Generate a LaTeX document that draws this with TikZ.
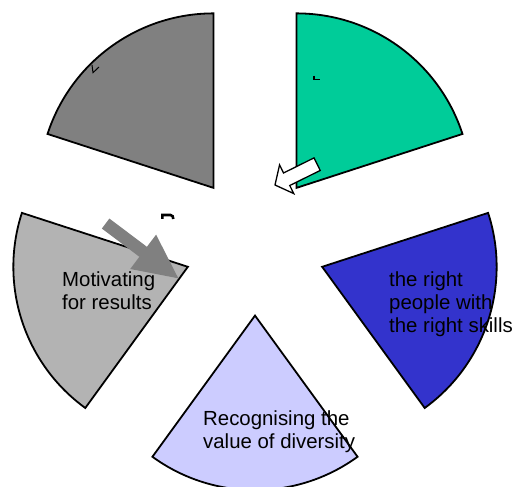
\documentclass[tikz,border=0pt]{standalone}
\usepackage{fontspec}
\setmainfont{Liberation Sans}
\usetikzlibrary{calc}
\definecolor{slicedark}{HTML}{808080}
\definecolor{slicegreen}{HTML}{00CC99}
\definecolor{sliceblue}{HTML}{3333CC}
\definecolor{slicelavender}{HTML}{CCCCFF}
\definecolor{slicelight}{HTML}{B3B3B3}
\begin{document}
\begin{tikzpicture}[x=1pt,y=1pt,
  slice/.style={draw=black, line width=1.8pt, line join=miter},
  % base anchor of a multi-line node sits on its last line
  slicetext/.style={anchor=base west, inner sep=0pt, align=left,
    font=\fontsize{20.4}{23.3}\selectfont},
  hollowarrow/.style={draw=black, fill=white, line width=1.3pt, line join=miter},
  solidarrow/.style={fill=slicedark},
  fragment/.style={draw=black, line width=1pt}]
\useasboundingbox (0,0) rectangle (515,487);
\coordinate (c) at (255,242);

% exploded pie: five 72-degree slices pushed out from the centre
\foreach \m/\col in {126/slicedark, 54/slicegreen, -18/sliceblue,
                     -90/slicelavender, 198/slicelight}{
  \draw[slice, fill=\col] ($(c)+(\m:70.6)$) -- ++(\m-36:174.5)
    arc[start angle=\m-36, end angle=\m+36, radius=174.5] -- cycle;
}

% leftover glyph pieces
\draw[fragment] (92,422) -- (93,414.3) -- (99,420);
\draw[fragment, line width=2pt] (314,411.3) -- (314,407);
\draw[fragment] (313.2,407) -- (320,407);
\draw[fragment, line width=2.6pt] (162.3,268) -- (162.3,272) -- (170.5,272)
  .. controls (172.5,272) and (173.3,270) .. (173.3,268);

% block arrows
\draw[hollowarrow, shift={(275,302)}, rotate=26.3]
  (0,0) -- (13,16) -- (13,7) -- (47,7) -- (47,-7) -- (13,-7) -- (13,-16) -- cycle;
\fill[solidarrow, shift={(178.3,208.7)}, rotate=143]
  (0,0) -- (44,21.5) -- (44,6.25) -- (91,6.25) -- (91,-6.25) -- (44,-6.25) -- (44,-21.5) -- cycle;

% slice labels
\node[slicetext] (motiv) at (62,177) {Motivating\\for results};
\node[slicetext] (skills) at (389,154) {the right\\people with\\the right skills};
\node[slicetext] (diversity) at (203,38) {Recognising the\\value of diversity};
\end{tikzpicture}
\end{document}
